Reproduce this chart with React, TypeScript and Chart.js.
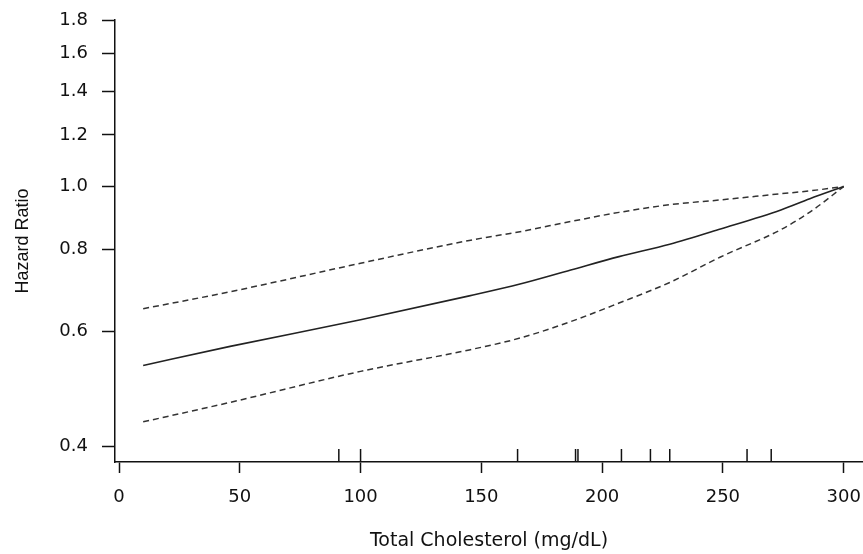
import React, { useEffect, useRef } from "react";
import { Chart, registerables } from "chart.js";

Chart.register(...registerables);

const xTicks = [0, 50, 100, 150, 200, 250, 300];
const yTicks = [0.4, 0.6, 0.8, 1.0, 1.2, 1.4, 1.6, 1.8];
const cholesterol = [10, 46, 100, 145, 166, 187, 207, 228, 249, 274, 286, 300];
const hazardRatio = [0.532, 0.569, 0.625, 0.68, 0.709, 0.745, 0.781, 0.816, 0.861, 0.921, 0.958, 1.0];
const upperCI = [0.65, 0.69, 0.763, 0.827, 0.853, 0.884, 0.913, 0.938, 0.954, 0.975, 0.985, 1.0];
const lowerCI = [0.436, 0.467, 0.521, 0.562, 0.586, 0.621, 0.663, 0.713, 0.78, 0.859, 0.914, 1.0];
const rugValues = [91, 100, 165, 189, 190, 208, 220, 228, 260, 270];

const INK = "#111";

const rugPlugin = {
  id: "rug",
  afterDatasetsDraw(chart: any) {
    const { ctx, chartArea, scales } = chart;
    const x = scales.x;
    ctx.save();
    ctx.strokeStyle = INK;
    ctx.lineWidth = 1.5;
    rugValues.forEach((v) => {
      const px = x.getPixelForValue(v);
      ctx.beginPath();
      ctx.moveTo(px, chartArea.bottom);
      ctx.lineTo(px, chartArea.bottom - 13);
      ctx.stroke();
    });
    ctx.restore();
  },
};

function toPoints(ys: number[]) {
  return cholesterol.map((x, i) => ({ x, y: ys[i] }));
}

export default function App() {
  const ref = useRef<HTMLCanvasElement | null>(null);
  useEffect(() => {
    if (!ref.current) return;
    const chart = new Chart(ref.current, {
      type: "line",
      data: {
        datasets: [
          {
            label: "Upper",
            data: toPoints(upperCI),
            borderColor: "#333",
            borderWidth: 1.5,
            borderDash: [6, 4],
            pointRadius: 0,
            cubicInterpolationMode: "monotone",
            fill: false,
          },
          {
            label: "Hazard Ratio",
            data: toPoints(hazardRatio),
            borderColor: "#222",
            borderWidth: 1.6,
            pointRadius: 0,
            cubicInterpolationMode: "monotone",
            fill: false,
          },
          {
            label: "Lower",
            data: toPoints(lowerCI),
            borderColor: "#333",
            borderWidth: 1.5,
            borderDash: [6, 4],
            pointRadius: 0,
            cubicInterpolationMode: "monotone",
            fill: false,
          },
        ],
      },
      options: {
        animation: false,
        responsive: false,
        layout: { padding: { top: 20, right: 0, left: 0, bottom: 0 } },
        plugins: { legend: { display: false }, tooltip: { enabled: false } },
        scales: {
          x: {
            type: "linear",
            min: -1.66,
            max: 308,
            afterBuildTicks: (s: any) => {
              s.ticks = xTicks.map((v) => ({ value: v }));
            },
            afterFit: (s: any) => {
              s.height = 92;
              s.paddingLeft = 0;
              s.paddingRight = 0;
            },
            grid: { drawOnChartArea: false, drawTicks: true, tickLength: 11, tickColor: INK, tickWidth: 1.5 },
            border: { display: true, color: INK, width: 1.5 },
            ticks: {
              color: INK,
              font: { family: "DejaVu Sans", size: 18 },
              padding: 14,
              maxRotation: 0,
              autoSkip: false,
            },
            title: {
              display: true,
              text: "Total Cholesterol (mg/dL)",
              color: INK,
              font: { family: "DejaVu Sans", size: 19 },
              padding: { top: 0, bottom: 2 },
            },
          },
          y: {
            type: "logarithmic",
            min: 0.3784,
            max: 1.8,
            afterBuildTicks: (s: any) => {
              s.ticks = yTicks.map((v) => ({ value: v }));
            },
            afterFit: (s: any) => {
              s.width = 115;
              s.paddingTop = 0;
              s.paddingBottom = 0;
            },
            grid: { drawOnChartArea: false, drawTicks: true, tickLength: 13, tickColor: INK, tickWidth: 1.5 },
            border: { display: true, color: INK, width: 1.5 },
            ticks: {
              color: INK,
              font: { family: "DejaVu Sans", size: 18 },
              padding: 14,
              autoSkip: false,
              callback: (v: any) => Number(v).toFixed(1),
            },
            title: {
              display: true,
              text: "Hazard Ratio",
              color: INK,
              font: { family: "Liberation Sans", size: 18 },
              padding: { top: 12, bottom: 0 },
            },
          },
        },
      },
      plugins: [rugPlugin],
    } as any);
    return () => chart.destroy();
  }, []);
  return (
    <div style={{ position: "absolute", left: 0, top: 0, width: 863, height: 554, background: "#fff" }}>
      <canvas ref={ref} width={863} height={554} />
    </div>
  );
}
